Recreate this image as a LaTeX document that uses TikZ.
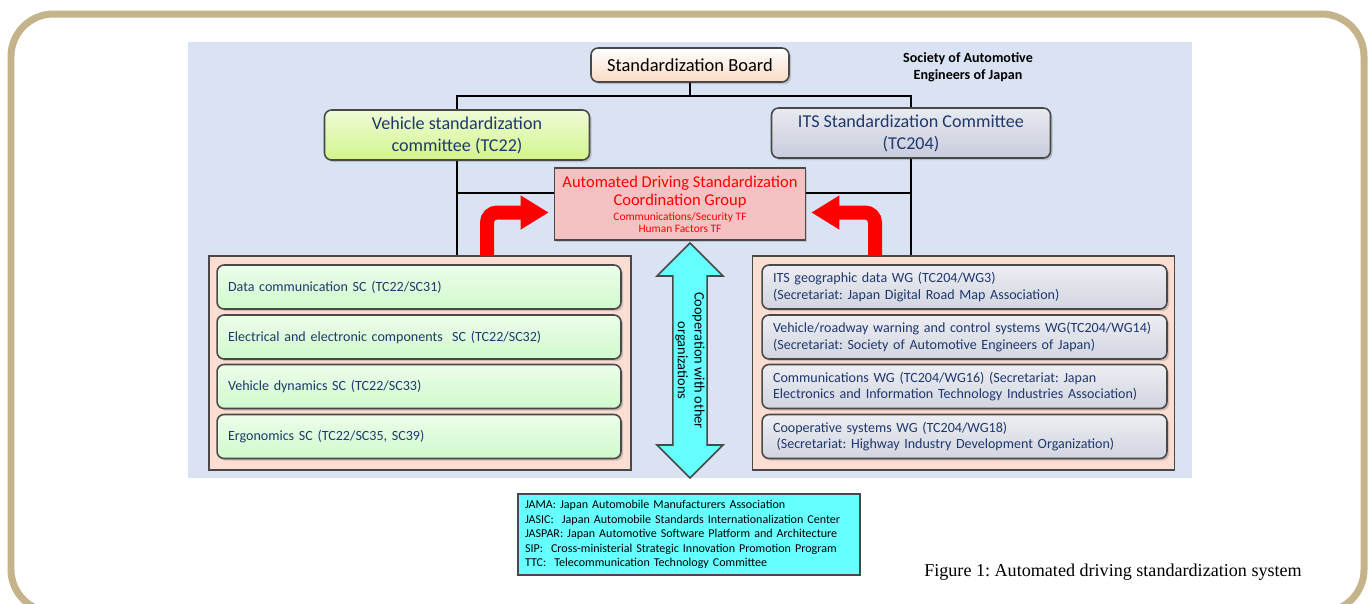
\documentclass[tikz,border=0pt]{standalone}
\usepackage{fontspec}
\setmainfont{Carlito}
\newfontfamily\capfont{Liberation Serif}
\usepackage{tikz}
\usetikzlibrary{arrows.meta,shadows,shapes.arrows}
\definecolor{framecol}{RGB}{197,179,139}
\definecolor{backdrop}{RGB}{218,227,243}
\definecolor{boardfill}{RGB}{250,218,196}
\definecolor{vehfill}{RGB}{210,245,140}
\definecolor{itsfill}{RGB}{200,204,220}
\definecolor{adfill}{RGB}{244,194,194}
\definecolor{groupfill}{RGB}{251,221,210}
\definecolor{scfill}{RGB}{208,250,204}
\definecolor{wgfill}{RGB}{210,213,224}
\definecolor{coopfill}{RGB}{102,255,255}
\definecolor{navy}{RGB}{31,56,110}
\definecolor{edge}{RGB}{72,72,72}
\newcommand{\px}{0.02cm}
\newcommand{\thinline}{0.9pt}
\frenchspacing

\begin{document}
\begin{tikzpicture}[x=\px, y=-\px,
  box/.style={draw=edge, line width=\thinline, rounded corners=4pt,
    drop shadow={shadow xshift=1.2pt, shadow yshift=-1.2pt, opacity=.35},
    align=center, inner sep=0pt},
  committee/.style={text=navy, font=\fontsize{10.3}{12.5}\selectfont,
    minimum height=1cm},
  subbox/.style={text=navy, font=\fontsize{8}{9.6}\selectfont, align=left,
    text width=7.64cm, inner xsep=0.22cm, minimum height=0.88cm},
  panel/.style={draw=edge, line width=\thinline, fill=groupfill,
    minimum width=8.44cm, minimum height=4.28cm},
  tree/.style={black, line width=1.1pt},
  turnarrow/.style={red, line width=0.28cm, rounded corners=0.2cm,
    shorten >=0.1cm, -{Triangle[length=0.56cm,width=0.64cm]}},
  coop/.style={double arrow, rotate=-90, draw=edge, fill=coopfill,
    line width=\thinline, minimum height=4.7cm, minimum width=1.32cm,
    double arrow head extend=0.3cm, inner sep=0.5pt, align=center,
    font=\fontsize{8.2}{9.4}\selectfont}]
\useasboundingbox (0,0) rectangle (1372,603);
% frame and backdrop
\draw[framecol, line width=0.14cm, rounded corners=0.85cm] (11,14) rectangle (1364,612);
\fill[backdrop] (188,42) rectangle (1192,478);

% board and committees
\node[box, top color=white, bottom color=boardfill, minimum width=3.96cm,
  minimum height=0.68cm, font=\fontsize{10.5}{12}\selectfont] (board) at (690,65) {Standardization Board};
\node[font=\bfseries\fontsize{8}{9.6}\selectfont, align=center] (sae) at (968,67) {Society of Automotive\\Engineers of Japan};
\node[box, committee, top color=vehfill!35, bottom color=vehfill, minimum width=5.3cm] (tc22) at (457,135) {Vehicle standardization\\committee (TC22)};
\node[box, committee, top color=itsfill!40, bottom color=itsfill, minimum width=5.58cm] (tc204) at (911,133) {ITS Standardization Committee\\(TC204)};

% coordination group
\node[draw=edge, line width=\thinline, fill=adfill, text=red,
  minimum width=5.02cm, minimum height=1.44cm, inner sep=0pt,
  drop shadow={shadow xshift=1pt, shadow yshift=-1pt, opacity=.3}] (adscg) at (680,204)
  {\parbox{5cm}{\centering
   \fontsize{9.4}{10.4}\selectfont Automated Driving Standardization\\Coordination Group\par
   \vspace{1.5pt}
   \fontsize{6.5}{6.9}\selectfont Communications/Security TF\\Human Factors TF\par}};

% groups
\node[panel] (tcgroup) at (420,363) {};
\node[panel] (itsgroup) at (963.5,363) {};

\node[box, subbox, top color=scfill!40, bottom color=scfill] (sc31) at (419,287) {Data communication SC (TC22/SC31)};
\node[box, subbox, top color=scfill!40, bottom color=scfill] (sc32) at (419,337) {Electrical and electronic components \ SC (TC22/SC32)};
\node[box, subbox, top color=scfill!40, bottom color=scfill] (sc33) at (419,386.5) {Vehicle dynamics SC (TC22/SC33)};
\node[box, subbox, top color=scfill!40, bottom color=scfill] (sc35) at (419,436.5) {Ergonomics SC (TC22/SC35, SC39)};

\node[box, subbox, top color=wgfill!40, bottom color=wgfill, text width=7.66cm] (wg3) at (964.5,287) {ITS geographic data WG (TC204/WG3)\\(Secretariat: Japan Digital Road Map Association)};
\node[box, subbox, top color=wgfill!40, bottom color=wgfill, text width=7.66cm] (wg14) at (964.5,337) {Vehicle/roadway warning and control systems WG(TC204/WG14)\\(Secretariat: Society of Automotive Engineers of Japan)};
\node[box, subbox, top color=wgfill!40, bottom color=wgfill, text width=7.66cm] (wg16) at (964.5,386.5) {Communications WG (TC204/WG16) (Secretariat: Japan\\Electronics and Information Technology Industries Association)};
\node[box, subbox, top color=wgfill!40, bottom color=wgfill, text width=7.66cm] (wg18) at (964.5,436.5) {Cooperative systems WG (TC204/WG18)\\\hspace*{2pt}(Secretariat: Highway Industry Development Organization)};

% tree lines
\coordinate (split) at (690,96);
\draw[tree] (board) -- (split) -| (tc22);
\draw[tree] (split) -| (tc204);
\draw[tree] (tc22) -- (tc22 |- tcgroup.north);
\draw[tree] (tc204) -- (tc204 |- itsgroup.north);
\coordinate (ljoin) at (457,193);
\draw[tree] (ljoin) -- (ljoin -| adscg.west);
\coordinate (rjoin) at (911,193);
\draw[tree] (rjoin) -- (rjoin -| adscg.east);

% red arrows up into the group
\coordinate (lfoot) at (487,256);
\draw[turnarrow] (lfoot) |- ([yshift=-0.17cm]adscg.west);
\coordinate (rfoot) at (875,256);
\draw[turnarrow] (rfoot) |- ([yshift=-0.17cm]adscg.east);

% cooperation
\node[coop] (coop) at (690,360.5) {Cooperation with other\\organizations};
\node[draw=edge, line width=\thinline, fill=coopfill, align=left,
  text width=6.56cm, inner xsep=0.14cm, minimum height=1.62cm,
  font=\fontsize{6.85}{8.3}\selectfont] (orgs) at (689,534.5)
  {JAMA: Japan Automobile Manufacturers Association\\
   JASIC: \ Japan Automobile Standards Internationalization Center\\
   JASPAR: Japan Automotive Software Platform and Architecture\\
   SIP: \ Cross-ministerial Strategic Innovation Promotion Program\\
   TTC: \ Telecommunication Technology Committee};

\node[font=\capfont\fontsize{10.3}{12}\selectfont] (caption) at (1113,572) {Figure 1: Automated driving standardization system};
\end{tikzpicture}
\end{document}
